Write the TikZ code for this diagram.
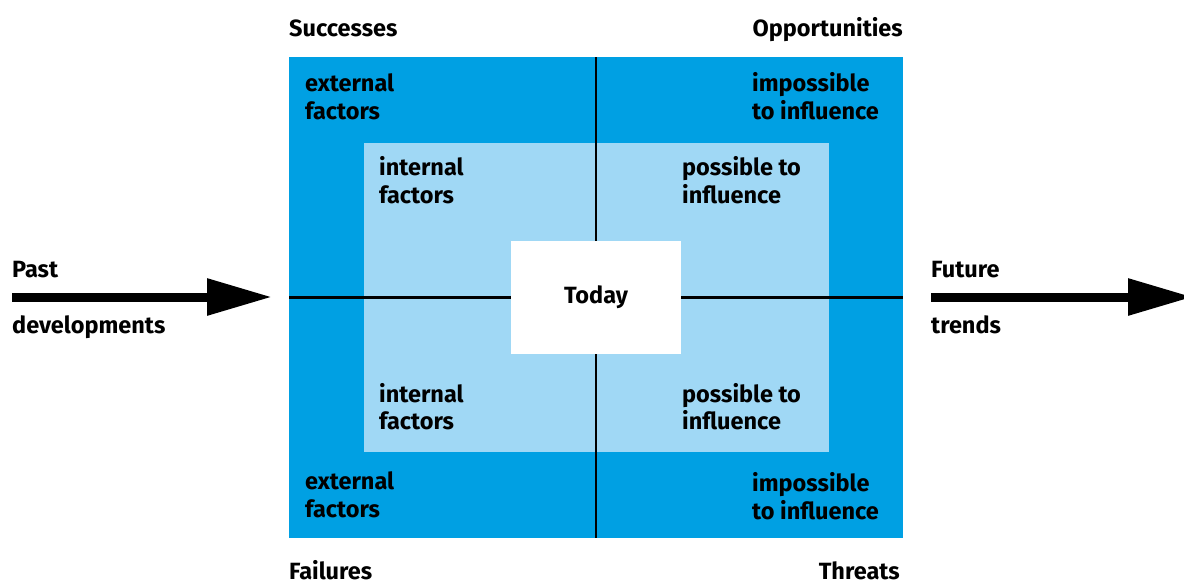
\documentclass[tikz,border=0pt]{standalone}
\usepackage{fontspec}
\setmainfont{Fira Sans}
\usetikzlibrary{arrows.meta}
\definecolor{outerblue}{RGB}{0,160,227}
\definecolor{innerblue}{RGB}{160,216,245}
\tikzset{
  lbl/.style={inner sep=0pt, anchor=base west, font=\fontsize{23.5}{28}\selectfont\bfseries},
  lblr/.style={lbl, anchor=base east},
  divider/.style={line width=2.5pt, black},
  bigarrow/.style={line width=9pt, -{Triangle[length=65pt,width=35pt]}}
}
\begin{document}
\begin{tikzpicture}[x=1pt,y=-1pt]
\useasboundingbox (0,0) rectangle (1184,584);
% boxes
\node[fill=outerblue, minimum width=614pt, minimum height=481pt, inner sep=0pt, anchor=north west] (outer) at (289,57) {};
\node[fill=innerblue, minimum width=465pt, minimum height=309pt, inner sep=0pt, anchor=north west] (inner) at (364,143) {};
\draw[divider] (outer.north) -- (outer.south);
\draw[divider] (outer.west) -- (outer.east);
\node[fill=white, minimum width=170pt, minimum height=113pt, inner sep=0pt, anchor=north west] (today) at (511,241) {};
\node[lbl, anchor=base] (todaytxt) at (596,303) {Today};
% corner titles
\node[lbl] (succ) at (289,36) {Successes};
\node[lblr] (opp) at (903,36) {Opportunities};
\node[lbl] (fail) at (289,579) {Failures};
\node[lblr] (thr) at (900,579) {Threats};
% outer texts
\node[lbl] (ext1a) at (305,91) {external};
\node[lbl] (ext1b) at (305,119) {factors};
\node[lbl] (imp1a) at (752,91) {impossible};
\node[lbl] (imp1b) at (752,119) {to influence};
\node[lbl] (ext2a) at (305,489) {external};
\node[lbl] (ext2b) at (305,517) {factors};
\node[lbl] (imp2a) at (752,491) {impossible};
\node[lbl] (imp2b) at (752,519) {to influence};
% inner texts
\node[lbl] (int1a) at (379,175) {internal};
\node[lbl] (int1b) at (379,203) {factors};
\node[lbl] (pos1a) at (682,175) {possible to};
\node[lbl] (pos1b) at (682,203) {influence};
\node[lbl] (int2a) at (379,402) {internal};
\node[lbl] (int2b) at (379,429) {factors};
\node[lbl] (pos2a) at (682,402) {possible to};
\node[lbl] (pos2b) at (682,429) {influence};
% arrows
\coordinate (pastS) at (12,297);
\coordinate (pastE) at (272,297);
\coordinate (futS) at (931,297);
\coordinate (futE) at (1193,297);
\draw[bigarrow] (pastS) -- (pastE);
\draw[bigarrow] (futS) -- (futE);
\node[lbl] (past) at (12,277) {Past};
\node[lbl] (dev) at (12,333) {developments};
\node[lbl] (fut) at (931,277) {Future};
\node[lbl] (trends) at (931,333) {trends};
\end{tikzpicture}
\end{document}
